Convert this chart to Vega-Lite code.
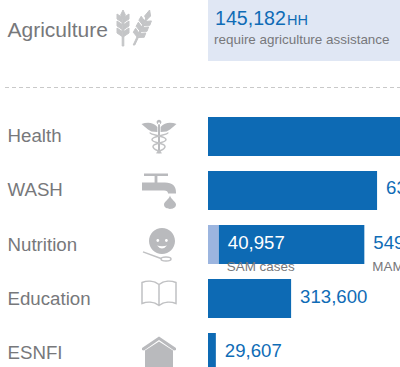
{"$schema":"https://vega.github.io/schema/vega-lite/v6.json","width":400,"height":367,"autosize":"none","padding":0,"background":"white","config":{"view":{"stroke":null},"text":{"font":"Liberation Sans"}},
"datasets":{
"needs":[{"sector":"Health","kind":"Total","value":1000000},{"sector":"WASH","kind":"Total","value":638000},{"sector":"Nutrition","kind":"SAM","value":40957,"note":"SAM cases"},{"sector":"Nutrition","kind":"MAM","value":549000,"note":"MAM cases"},{"sector":"Education","kind":"Total","value":313600},{"sector":"ESNFI","kind":"Total","value":29607}],
"agri":[{"sector":"Agriculture","value":145182,"unit":"HH","caption":"require agriculture assistance"}],
"sectors":[{"sector":"Health"},{"sector":"WASH"},{"sector":"Nutrition"},{"sector":"Education"},{"sector":"ESNFI"}]},
"resolve":{"scale":{"x":"independent","y":"independent","shape":"independent","color":"independent"}},
"layer":[
{"data":{"name":"agri"},"mark":{"type":"bar","color":"#e0e7f4"},"encoding":{"x":{"datum":0,"type":"quantitative","scale":{"domain":[0,724528],"range":[208,400]},"axis":null},"x2":{"datum":724528},"y":{"field":"sector","type":"nominal","scale":{"type":"band","domain":["Agriculture"],"range":[0,61],"paddingInner":0,"paddingOuter":0},"axis":{"orient":"left","title":null,"domain":false,"ticks":false,"labelAlign":"left","labelPadding":-7,"labelFont":"Liberation Sans","labelFontSize":21,"labelColor":"#77787b","labelLimit":200}}}},
{"data":{"name":"agri"},"mark":{"type":"text","align":"left","dx":7,"dy":-12,"fontSize":19.6,"color":"#0f6cb6"},"encoding":{"x":{"datum":0,"type":"quantitative","scale":{"domain":[0,724528],"range":[208,400]},"axis":null},"y":{"field":"sector","type":"nominal","scale":{"type":"band","domain":["Agriculture"],"range":[0,61]},"axis":null},"text":{"field":"value","type":"quantitative","format":","}}},
{"data":{"name":"agri"},"mark":{"type":"text","align":"left","dx":79,"dy":-10,"fontSize":14.5,"color":"#0f6cb6"},"encoding":{"x":{"datum":0,"type":"quantitative","scale":{"domain":[0,724528],"range":[208,400]},"axis":null},"y":{"field":"sector","type":"nominal","scale":{"type":"band","domain":["Agriculture"],"range":[0,61]},"axis":null},"text":{"field":"unit"}}},
{"data":{"name":"agri"},"mark":{"type":"text","align":"left","dx":6,"dy":9,"fontSize":13.45,"color":"#77787b"},"encoding":{"x":{"datum":0,"type":"quantitative","scale":{"domain":[0,724528],"range":[208,400]},"axis":null},"y":{"field":"sector","type":"nominal","scale":{"type":"band","domain":["Agriculture"],"range":[0,61]},"axis":null},"text":{"field":"caption"}}},
{"data":{"name":"agri"},"mark":{"type":"point","filled":true,"size":1600,"opacity":1,"color":"#c4c5c7","stroke":"#c4c5c7","strokeWidth":1},"encoding":{"x":{"datum":"icon","scale":{"type":"band","domain":["icon"],"range":[114,154]},"axis":null},"y":{"field":"sector","type":"nominal","scale":{"type":"band","domain":["Agriculture"],"range":[0,56]},"axis":null},"shape":{"field":"sector","type":"nominal","legend":null,"scale":{"domain":["Agriculture"],"range":["M-.59 .9 L-.51 .9 L-.51 -.5 L-.59 -.5z M-.55 -.45 l-.12 -.2 l.12 -.25 l.12 .25z M-.55 .45 l-.3 -.2 l0 -.25 l.3 .2z M-.55 .45 l.3 -.2 l0 -.25 l-.3 .2z M-.55 .1 l-.3 -.2 l0 -.25 l.3 .2z M-.55 .1 l.3 -.2 l0 -.25 l-.3 .2z M-.55 -.25 l-.3 -.2 l0 -.25 l.3 .2z M-.55 -.25 l.3 -.2 l0 -.25 l-.3 .2z M-.04 .85 L.59 -.5 L.67 -.5 L.04 .85z M.175 .475 l-.21 -.263 l.115 -.201 l.187 .264z M.175 .475 l.336 -.011 l.079 -.217 l-.323 .028z M.315 .175 l-.21 -.263 l.115 -.201 l.187 .264z M.315 .175 l.336 -.011 l.079 -.217 l-.323 .028z M.455 -.125 l-.21 -.263 l.115 -.201 l.187 .264z M.455 -.125 l.336 -.011 l.079 -.217 l-.323 .028z M.63 -.4 l-.1 -.2 l.25 -.3 l.05 .3z"]}}}},
{"data":{"values":[{"a":1}]},"mark":{"type":"rule","color":"#c9c9c9","strokeWidth":1,"strokeDash":[4,3]},"encoding":{"x":{"datum":0,"type":"quantitative","scale":{"domain":[0,1],"range":[5,400]},"axis":null},"x2":{"datum":1},"y":{"datum":0,"type":"quantitative","scale":{"domain":[0,1],"range":[87.5,86.5]},"axis":null}}},
{"data":{"name":"needs"},"transform":[{"stack":"value","groupby":["sector"],"sort":[{"field":"kind","order":"descending"}],"as":["x0","x1"]}],"mark":{"type":"bar","clip":true},"encoding":{"x":{"field":"x0","type":"quantitative","scale":{"domain":[0,724528],"range":[208,400]},"axis":null},"x2":{"field":"x1"},"y":{"field":"sector","type":"nominal","sort":null,"scale":{"type":"band","domain":["Health","WASH","Nutrition","Education","ESNFI"],"range":[117,372],"paddingInner":0.278,"paddingOuter":0},"axis":{"orient":"left","title":null,"domain":false,"ticks":false,"labelAlign":"left","labelPadding":-7,"labelFont":"Liberation Sans","labelFontSize":18.7,"labelColor":"#77787b","labelLimit":200}},"color":{"field":"kind","type":"nominal","legend":null,"scale":{"domain":["SAM","MAM","Total"],"range":["#9cb5df","#0d6ab4","#0d6ab4"]}}}},
{"data":{"name":"needs"},"transform":[{"stack":"value","groupby":["sector"],"sort":[{"field":"kind","order":"descending"}],"as":["x0","x1"]}],"mark":{"type":"text","align":"left","dx":9,"dy":-2,"fontSize":18.6},"encoding":{"x":{"field":"x1","type":"quantitative","scale":{"domain":[0,724528],"range":[208,400]},"axis":null},"y":{"field":"sector","type":"nominal","scale":{"type":"band","domain":["Health","WASH","Nutrition","Education","ESNFI"],"range":[117,372],"paddingInner":0.278,"paddingOuter":0},"axis":null},"text":{"field":"value","type":"quantitative","format":","},"color":{"field":"kind","type":"nominal","legend":null,"scale":{"domain":["SAM","MAM","Total"],"range":["#ffffff","#0f6cb6","#0f6cb6"]}}}},
{"data":{"name":"needs"},"transform":[{"filter":"datum.sector==='Nutrition'"},{"stack":"value","groupby":["sector"],"sort":[{"field":"kind","order":"descending"}],"as":["x0","x1"]}],"mark":{"type":"text","align":"left","dx":8,"dy":22,"fontSize":13.4,"color":"#77787b"},"encoding":{"x":{"field":"x1","type":"quantitative","scale":{"domain":[0,724528],"range":[208,400]},"axis":null},"y":{"field":"sector","type":"nominal","scale":{"type":"band","domain":["Health","WASH","Nutrition","Education","ESNFI"],"range":[117,372],"paddingInner":0.278,"paddingOuter":0},"axis":null},"text":{"field":"note"}}},
{"data":{"name":"sectors"},"mark":{"type":"point","filled":true,"size":1600,"opacity":1,"color":"#b9babd"},"encoding":{"x":{"datum":"icon","scale":{"type":"band","domain":["icon"],"range":[139,179]},"axis":null},"y":{"field":"sector","type":"nominal","scale":{"type":"band","domain":["Health","WASH","Nutrition","Education","ESNFI"],"range":[117,372],"paddingInner":0.278,"paddingOuter":0},"axis":null},"shape":{"field":"sector","type":"nominal","legend":null,"scale":{"domain":["Health","WASH","Nutrition","Education","ESNFI"],"range":["M-.12 -.72 a.12 .12 0 1 0 .24 0 a.12 .12 0 1 0 -.24 0z M-.05 -.7 L.05 -.7 L.05 .85 L-.05 .85z M.08 -.48 C.3 -.72 .6 -.72 .875 -.62 L.7 -.47 L.55 -.35 L.38 -.25 L.08 -.22z M-.08 -.48 L-.08 -.22 L-.38 -.25 L-.55 -.35 L-.7 -.47 L-.875 -.62 C-.6 -.72 -.3 -.72 -.08 -.48z","M-.75 -.85 L.45 -.85 L.45 -.72 L-.75 -.72z M-.22 -.72 L-.08 -.72 L-.08 -.4 L-.22 -.4z M-.85 -.4 L.3 -.4 Q.85 -.4 .85 .1 L.85 .15 L.45 .15 Q.45 0 .25 0 L-.85 0z M.55 .25 C.6 .45 .85 .55 .85 .7 C.85 .85 .7 .92 .55 .92 C.4 .92 .25 .85 .25 .7 C.25 .55 .5 .45 .55 .25z","M-.5 -.18 a.65 .65 0 1 1 1.3 0 a.65 .65 0 1 1 -1.3 0z M-.13 -.2 a.07 .07 0 1 0 .14 0 a.07 .07 0 1 0 -.14 0z M.3 -.2 a.07 .07 0 1 0 .14 0 a.07 .07 0 1 0 -.14 0z M-.1 .05 Q.15 .35 .4 .05 Q.15 .12 -.1 .05z","M-.01 -.01 L.01 -.01 L.01 .01 L-.01 .01z","M0 -.8 L.85 -.22 L.85 -.12 L.75 -.1 L0 -.62 L-.75 -.1 L-.85 -.12 L-.85 -.22z M0 -.55 L.7 -.1 L.7 1 L-.7 1 L-.7 -.1z"]}}}},
{"data":{"name":"sectors"},"transform":[{"filter":"datum.sector==='Health'||datum.sector==='Nutrition'||datum.sector==='Education'"}],"mark":{"type":"point","filled":false,"size":1600,"opacity":1,"strokeWidth":1.5,"color":"#c0c1c3"},"encoding":{"x":{"datum":"icon","scale":{"type":"band","domain":["icon"],"range":[139,179]},"axis":null},"y":{"field":"sector","type":"nominal","scale":{"type":"band","domain":["Health","WASH","Nutrition","Education","ESNFI"],"range":[117,372],"paddingInner":0.278,"paddingOuter":0},"axis":null},"shape":{"field":"sector","type":"nominal","legend":null,"scale":{"domain":["Health","Nutrition","Education"],"range":["M-.45 -.2 C-.45 -.05 .35 -.05 .35 .15 C.35 .35 -.3 .3 -.3 .5 C-.3 .7 .1 .7 .1 .85 M.45 -.2 C.45 -.05 -.35 -.05 -.35 .15 C-.35 .35 .3 .3 .3 .5 C.3 .7 -.1 .7 -.1 .85","M-.8 .37 L.1 .7 M.1 .72 a.25 .1 0 1 0 .5 0 a.25 .1 0 1 0 -.5 0z","M0 -.7 C-.25 -.9 -.6 -.9 -.85 -.8 L-.85 .25 C-.6 .15 -.25 .15 0 .35 C.25 .15 .6 .15 .85 .25 L.85 -.8 C.6 -.9 .25 -.9 0 -.7 L0 .35"]}}}}
]}
